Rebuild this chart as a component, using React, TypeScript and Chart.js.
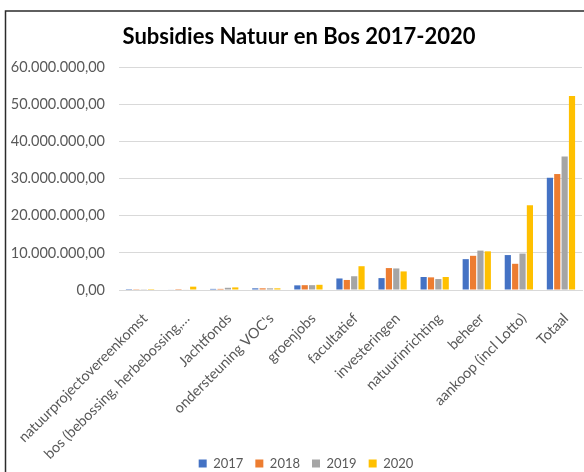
import React, { useEffect, useRef } from "react";
import { Chart, registerables } from "chart.js";

Chart.register(...registerables);

const categories = [
  "natuurprojectovereenkomst",
  "bos (bebossing, herbebossing,…",
  "Jachtfonds",
  "ondersteuning VOC's",
  "groenjobs",
  "facultatief",
  "investeringen",
  "natuurinrichting",
  "beheer",
  "aankoop (incl Lotto)",
  "Totaal",
];

const seriesNames = ["2017", "2018", "2019", "2020"];

const values2017 = [20000, 150000, 300000, 450000, 1250000, 3100000, 3200000, 3500000, 8300000, 9400000, 30200000];
const values2018 = [50000, 250000, 300000, 450000, 1300000, 2700000, 5900000, 3400000, 9200000, 7050000, 31200000];
const values2019 = [200000, 150000, 600000, 450000, 1300000, 3700000, 5800000, 2950000, 10600000, 9800000, 35900000];
const values2020 = [250000, 900000, 700000, 450000, 1400000, 6400000, 5000000, 3500000, 10400000, 22800000, 52200000];

const colors = ["#4472C4", "#ED7D31", "#A5A5A5", "#FFC000"];

const yTicks = [0, 10000000, 20000000, 30000000, 40000000, 50000000, 60000000];

const fontFamily = "Lato, 'Open Sans', sans-serif";

function formatNL(v: number): string {
  const intPart = Math.round(v).toString().replace(/\B(?=(\d{3})+(?!\d))/g, ".");
  return intPart + ",00";
}

const framePlugin = {
  id: "frame",
  beforeDraw(chart: any) {
    const ctx = chart.ctx;
    ctx.save();
    ctx.fillStyle = "#ffffff";
    ctx.fillRect(0, 0, chart.width, chart.height);
    ctx.strokeStyle = "#2b2b2b";
    ctx.lineWidth = 1.5;
    ctx.beginPath();
    ctx.moveTo(5.5, chart.height);
    ctx.lineTo(5.5, 11);
    ctx.lineTo(chart.width, 11);
    ctx.stroke();
    ctx.restore();
  },
};

const shiftPlugin = {
  id: "shiftBoxes",
  afterLayout(chart: any) {
    const legend = chart.legend;
    if (legend) {
      legend.left += 15;
      legend.right += 15;
      legend.top += 12;
      legend.bottom += 12;
    }
    const title = chart.titleBlock;
    if (title) {
      title.left += 8;
      title.right += 8;
    }
    const xScale = chart.scales.x;
    if (xScale) {
      xScale.bottom = chart.height;
    }
  },
};

export default function App() {
  const ref = useRef<HTMLCanvasElement | null>(null);

  useEffect(() => {
    if (!ref.current) return;
    const allSeries = [values2017, values2018, values2019, values2020];
    const chart = new Chart(ref.current, {
      type: "bar",
      data: {
        labels: categories,
        datasets: seriesNames.map((name, i) => ({
          label: name,
          data: allSeries[i],
          backgroundColor: colors[i],
          borderWidth: 0,
          categoryPercentage: 0.7,
          barPercentage: 0.84,
        })),
      },
      options: {
        animation: false,
        responsive: false,
        maintainAspectRatio: false,
        layout: { padding: { left: 0, right: 2, top: 0, bottom: 4 } },
        plugins: {
          title: {
            display: true,
            text: "Subsidies Natuur en Bos 2017-2020",
            color: "#000000",
            font: { family: fontFamily, size: 22, weight: "bold" },
            padding: { top: 24, bottom: 16.6 },
          },
          legend: {
            position: "bottom",
            labels: {
              boxWidth: 8,
              boxHeight: 8,
              padding: 12,
              color: "#595959",
              font: { family: fontFamily, size: 13 },
            },
          },
          tooltip: { enabled: false },
        },
        scales: {
          x: {
            grid: { display: false, drawTicks: false },
            border: { color: "#d9d9d9" },
            ticks: {
              autoSkip: false,
              minRotation: 45,
              maxRotation: 45,
              color: "#595959",
              font: { family: fontFamily, size: 14.4 },
              padding: 20,
              labelOffset: 5,
            },
            afterFit: (scale: any) => {
              scale.height = 143;
              scale.paddingLeft = 0;
              scale.paddingRight = 0;
            },
          },
          y: {
            min: 0,
            max: 60000000,
            afterBuildTicks: (scale: any) => {
              scale.ticks = yTicks.map((v) => ({ value: v }));
            },
            grid: { color: "#d9d9d9", drawTicks: false },
            border: { display: false },
            ticks: {
              color: "#595959",
              font: { family: fontFamily, size: 14.5 },
              padding: 14,
              callback: (v: any) => formatNL(Number(v)),
            },
            afterFit: (scale: any) => {
              scale.width = 119;
              scale.paddingTop = 0;
              scale.paddingBottom = 0;
            },
          },
        },
      },
      plugins: [framePlugin, shiftPlugin],
    });
    return () => chart.destroy();
  }, []);

  return (
    <div style={{ width: 584, height: 472 }}>
      <style>{`body{margin:0}`}</style>
      <canvas ref={ref} width={584} height={472} style={{ display: "block" }} />
    </div>
  );
}
